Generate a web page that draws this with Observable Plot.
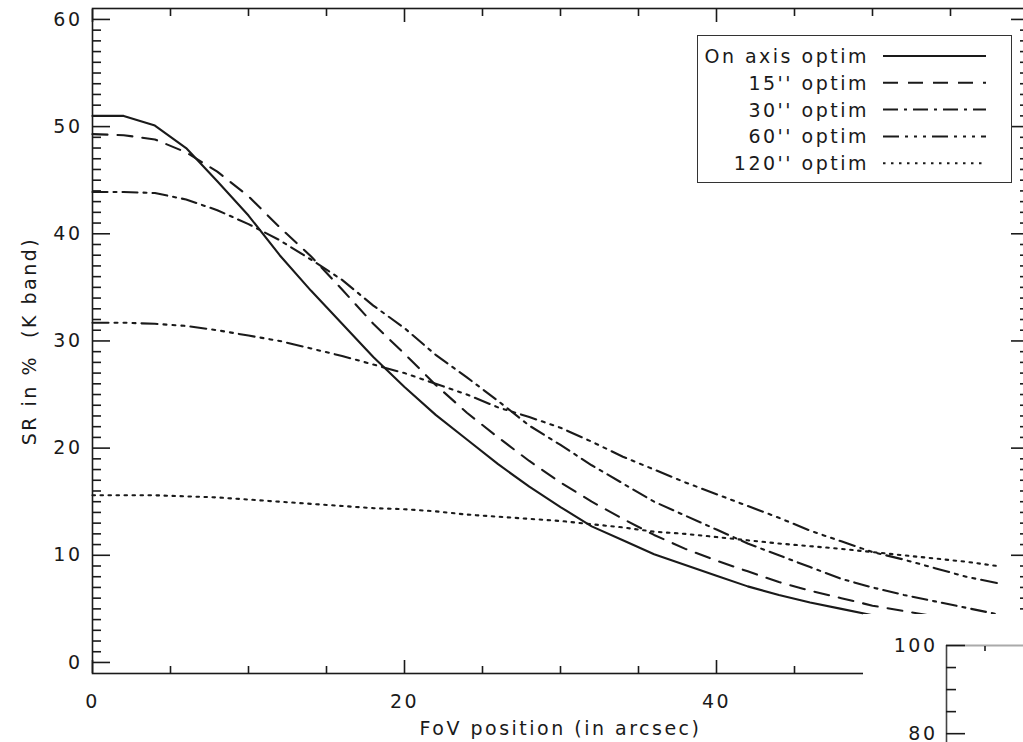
<!DOCTYPE html>
<html>
<head>
<meta charset="utf-8">
<script src="https://cdn.jsdelivr.net/npm/d3@7"></script>
<script src="https://cdn.jsdelivr.net/npm/@observablehq/plot@0.6"></script>
<style>
  html, body { margin: 0; padding: 0; background: #fff; overflow: hidden; }
  #wrap { position: relative; width: 1023px; height: 742px; overflow: hidden; }
  #legend { position: absolute; left: 697px; top: 35px; width: 313px; height: 146px;
            border: 1.5px solid #333; background: #fff; }
  #inset { position: absolute; left: 863px; top: 614px; width: 160px; height: 128px; background: #fff; }
</style>
</head>
<body>
<div id="wrap"><div id="chart"></div><div id="legend"></div><div id="inset"></div></div>
<script>
// ---------- data ----------
const fov = [0, 2, 4, 6, 8, 10, 12, 14, 16, 18, 20, 22, 24, 26, 28, 30, 32, 34, 36, 38, 40, 42, 44, 46, 48, 50, 52, 54, 56, 58];
const seriesNames = ["On axis optim", "15'' optim", "30'' optim", "60'' optim", "120'' optim"];
const onAxis   = [51.0, 51.0, 50.1, 48.0, 44.9, 41.7, 38.0, 34.7, 31.6, 28.5, 25.7, 23.1, 20.8, 18.5, 16.4, 14.5, 12.7, 11.4, 10.1, 9.1, 8.1, 7.1, 6.3, 5.6, 5.0, 4.4];
const optim15  = [49.3, 49.2, 48.8, 47.6, 45.8, 43.5, 40.6, 37.9, 34.8, 31.6, 28.8, 25.9, 23.3, 21.0, 18.8, 16.8, 15.0, 13.4, 11.9, 10.6, 9.5, 8.5, 7.5, 6.7, 6.0, 5.3, 4.8, 4.3, 3.9, 3.5];
const optim30  = [43.9, 43.9, 43.8, 43.2, 42.2, 40.9, 39.4, 37.6, 35.7, 33.3, 31.2, 28.7, 26.6, 24.4, 22.1, 20.3, 18.4, 16.7, 15.0, 13.7, 12.4, 11.1, 10.0, 8.9, 7.8, 7.0, 6.3, 5.7, 5.1, 4.5];
const optim60  = [31.7, 31.7, 31.6, 31.4, 31.0, 30.5, 30.0, 29.3, 28.6, 27.8, 27.0, 26.0, 25.0, 23.8, 22.9, 21.9, 20.6, 19.2, 18.0, 16.8, 15.7, 14.6, 13.5, 12.3, 11.3, 10.3, 9.6, 8.8, 8.0, 7.4];
const optim120 = [15.6, 15.6, 15.6, 15.5, 15.4, 15.2, 15.0, 14.8, 14.6, 14.4, 14.3, 14.1, 13.8, 13.6, 13.4, 13.2, 12.9, 12.6, 12.2, 12.0, 11.7, 11.4, 11.1, 10.85, 10.6, 10.3, 10.0, 9.7, 9.4, 9.0];
const seriesValues = [onAxis, optim15, optim30, optim60, optim120];

const xMajorTicks = [0, 20, 40, 60];
const xMinorTicks = [5, 10, 15, 25, 30, 35, 45, 50, 55];
const xTickLabels = [0, 20, 40];
const yMajorTicks = [0, 10, 20, 30, 40, 50, 60];
const yMinorTicks = d3.range(0, 61).filter(v => v % 10 !== 0);
const xTitle = "FoV position (in arcsec)";
const yTitle = "SR in %  (K band)";

const insetYMajor = [80, 100];
const insetYMinor = [85, 90, 95];
const insetXTicks = [1];

// ---------- styles ----------
const dashes = [null, "15,10", "15,6,3,6", "16,6,3,6,3,6,3,6", "2.5,5.5"];
const ink = "#1a1a1a";
const font = "'DejaVu Sans', sans-serif";
const textStyle = { fontFamily: font, fontSize: "19px", letterSpacing: "2.5px", color: ink, background: "#fff" };

const rows = seriesNames.flatMap((name, i) => seriesValues[i].map((v, j) => ({ name, x: fov[j], y: v })));

const lineMarks = seriesNames.map((name, i) =>
  Plot.line(rows.filter(d => d.name === name), {
    x: "x", y: "y", stroke: ink, strokeWidth: 2.1,
    strokeDasharray: dashes[i] || undefined
  })
);

const tickOpts = { fill: "none", stroke: ink, strokeWidth: 1.6 };

const chart = Plot.plot({
  width: 1023,
  height: 742,
  marginLeft: 92,
  marginRight: -5,
  marginTop: 8,
  marginBottom: 69,
  style: textStyle,
  x: { domain: [0, 60] },
  y: { domain: [-1.03, 61.02] },
  marks: [
    Plot.frame({ stroke: ink, strokeWidth: 1.6 }),
    Plot.axisX(xMajorTicks, { anchor: "bottom", tickSize: -13, ...tickOpts }),
    Plot.axisX(xMinorTicks, { anchor: "bottom", tickSize: -7, ...tickOpts }),
    Plot.axisX(xMajorTicks, { anchor: "top", tickSize: -13, ...tickOpts }),
    Plot.axisX(xMinorTicks, { anchor: "top", tickSize: -7, ...tickOpts }),
    Plot.axisX(xTickLabels, { anchor: "bottom", tickSize: 0, tickPadding: 21, label: null, fill: ink }),
    Plot.axisY(yMajorTicks, { anchor: "left", tickSize: -18, ...tickOpts }),
    Plot.axisY(yMinorTicks, { anchor: "left", tickSize: -9, ...tickOpts }),
    Plot.axisY(yMajorTicks, { anchor: "right", tickSize: -18, ...tickOpts }),
    Plot.axisY(yMinorTicks, { anchor: "right", tickSize: -9, ...tickOpts }),
    Plot.axisY(yMajorTicks, { anchor: "left", tickSize: 0, tickPadding: 10, label: null, fill: ink }),
    ...lineMarks,
    Plot.text([xTitle], { text: d => d, frameAnchor: "bottom", dy: 55, lineAnchor: "middle", textAnchor: "middle", fill: ink }),
    Plot.text([yTitle], { text: d => d, frameAnchor: "left", dx: -63, rotate: -90, textAnchor: "middle", lineAnchor: "middle", fill: ink })
  ]
});
document.getElementById("chart").appendChild(chart);

// ---------- legend ----------
const lg = d3.select("#legend").append("svg")
  .attr("width", 313).attr("height", 146)
  .style("font-family", font).style("font-size", "19px").style("letter-spacing", "2.5px");
seriesNames.forEach((name, i) => {
  const cy = 20 + i * 26.8;
  lg.append("text").attr("x", 171).attr("y", cy).attr("text-anchor", "end")
    .attr("dominant-baseline", "central").attr("fill", ink).text(name);
  lg.append("line").attr("x1", 185).attr("x2", 288).attr("y1", cy).attr("y2", cy)
    .attr("stroke", ink).attr("stroke-width", 2)
    .attr("stroke-dasharray", dashes[i] || null);
});

// ---------- inset (corner of neighbouring panel) ----------
const inset = Plot.plot({
  width: 160,
  height: 128,
  marginLeft: 83,
  marginRight: 0,
  marginTop: 31,
  marginBottom: 0,
  style: textStyle,
  x: { domain: [0, 2] },
  y: { domain: [78, 100] },
  marks: [
    Plot.ruleY([100], { stroke: "#aaa", strokeWidth: 2 }),
    Plot.ruleX([0], { stroke: "#444", strokeWidth: 1.6 }),
    Plot.axisY(insetYMajor, { anchor: "left", tickSize: -19, ...tickOpts }),
    Plot.axisY(insetYMinor, { anchor: "left", tickSize: -10, ...tickOpts }),
    Plot.axisY(insetYMajor, { anchor: "left", tickSize: 0, tickPadding: 9, label: null, fill: ink }),
    Plot.axisX(insetXTicks, { anchor: "top", tickSize: -5, ...tickOpts })
  ]
});
document.getElementById("inset").appendChild(inset);
</script>
</body>
</html>
